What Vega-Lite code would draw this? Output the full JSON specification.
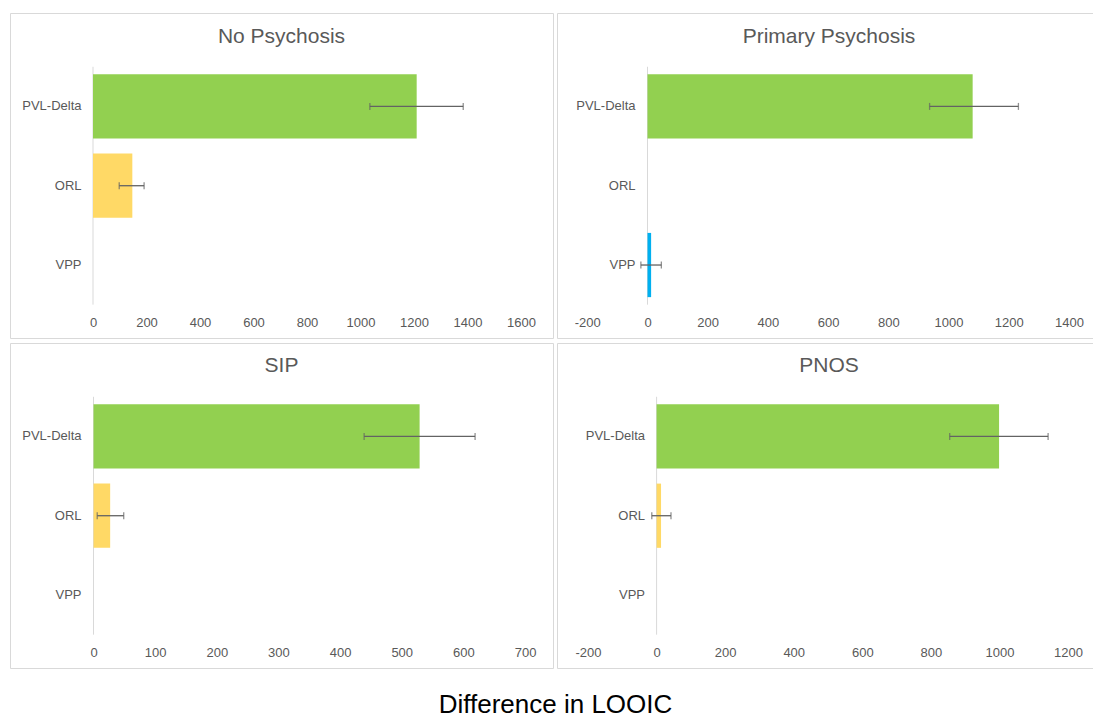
{
  "$schema": "https://vega.github.io/schema/vega-lite/v6.json",
  "padding": {"left": 9, "top": 12, "right": 0, "bottom": 0},
  "background": "white",
  "title": {"text": "Difference in LOOIC", "orient": "bottom", "anchor": "middle", "fontSize": 26, "font": "Liberation Sans", "fontWeight": "normal", "color": "#000000", "offset": 23},
  "config": {
    "view": {"stroke": "#D9D9D9", "strokeWidth": 1},
    "font": "Liberation Sans",
    "title": {"font": "Liberation Sans", "fontSize": 21, "fontWeight": "normal", "color": "#595959", "anchor": "middle", "baseline": "middle", "offset": -34},
    "axis": {"labelFont": "Liberation Sans", "labelFontSize": 13, "labelColor": "#595959", "domain": false, "grid": false, "ticks": false, "tickSize": 0, "minExtent": 0, "title": null},
    "axisX": {"labelExpr": "'' + datum.value"},
    "tick": {"thickness": 1.3}
  },
  "datasets": {
    "frame": [{"first": "PVL-Delta", "last": "VPP"}],
    "bars": [
      {"group": "No Psychosis", "model": "PVL-Delta", "value": 1210, "lo": 1035, "hi": 1384},
      {"group": "No Psychosis", "model": "ORL", "value": 147, "lo": 98, "hi": 191},
      {"group": "Primary Psychosis", "model": "PVL-Delta", "value": 1080, "lo": 937, "hi": 1232},
      {"group": "Primary Psychosis", "model": "VPP", "value": 12, "lo": -22, "hi": 46},
      {"group": "SIP", "model": "PVL-Delta", "value": 529, "lo": 439, "hi": 619},
      {"group": "SIP", "model": "ORL", "value": 27, "lo": 6, "hi": 49},
      {"group": "PNOS", "model": "PVL-Delta", "value": 999, "lo": 855, "hi": 1142},
      {"group": "PNOS", "model": "ORL", "value": 13, "lo": -14, "hi": 42}
    ]
  },
  "vconcat": [
    {"spacing": 2, "hconcat": [
      {"width": 543, "height": 325, "title": {"text": "No Psychosis"},
       "layer": [
         {"data": {"name": "frame"}, "mark": {"type": "rule", "color": "#D9D9D9", "strokeWidth": 1},
          "encoding": {
            "x": {"datum": 0, "type": "quantitative", "scale": {"domain": [-310.3, 1719.6], "nice": false, "zero": false}, "axis": {"values": [0, 200, 400, 600, 800, 1000, 1200, 1400, 1600], "labelPadding": -16, "labelBaseline": "middle"}},
            "y": {"field": "first", "type": "nominal", "bandPosition": -0.117, "title": null, "scale": {"domain": ["PVL-Delta", "ORL", "VPP"], "paddingInner": 0.19, "paddingOuter": 0.644, "align": 0.6}, "axis": {"labelPadding": -71}},
            "y2": {"field": "last", "bandPosition": 1.117}
          }},
         {"data": {"name": "bars"}, "transform": [{"filter": "datum.group === 'No Psychosis'"}], "mark": {"type": "bar"},
          "encoding": {
            "x": {"field": "value", "type": "quantitative", "title": null},
            "y": {"field": "model", "type": "nominal", "title": null},
            "color": {"field": "model", "type": "nominal", "scale": {"domain": ["PVL-Delta", "ORL", "VPP"], "range": ["#92D050", "#FFD966", "#00B0F0"]}, "legend": null}
          }},
         {"data": {"name": "bars"}, "transform": [{"filter": "datum.group === 'No Psychosis'"}], "mark": {"type": "rule", "color": "#636363", "strokeWidth": 1.3},
          "encoding": {"x": {"field": "lo", "type": "quantitative", "title": null}, "x2": {"field": "hi"}, "y": {"field": "model", "type": "nominal", "title": null}}},
         {"data": {"name": "bars"}, "transform": [{"filter": "datum.group === 'No Psychosis'"}], "mark": {"type": "tick", "color": "#636363", "size": 7},
          "encoding": {"x": {"field": "lo", "type": "quantitative", "title": null}, "y": {"field": "model", "type": "nominal", "title": null}}},
         {"data": {"name": "bars"}, "transform": [{"filter": "datum.group === 'No Psychosis'"}], "mark": {"type": "tick", "color": "#636363", "size": 7},
          "encoding": {"x": {"field": "hi", "type": "quantitative", "title": null}, "y": {"field": "model", "type": "nominal", "title": null}}}
       ]},
      {"width": 544, "height": 325, "title": {"text": "Primary Psychosis"},
       "layer": [
         {"data": {"name": "frame"}, "mark": {"type": "rule", "color": "#D9D9D9", "strokeWidth": 1},
          "encoding": {
            "x": {"datum": 0, "type": "quantitative", "scale": {"domain": [-300.6, 1506.3], "nice": false, "zero": false}, "axis": {"values": [-200, 0, 200, 400, 600, 800, 1000, 1200, 1400], "labelPadding": -16, "labelBaseline": "middle"}},
            "y": {"field": "first", "type": "nominal", "bandPosition": -0.117, "title": null, "scale": {"domain": ["PVL-Delta", "ORL", "VPP"], "paddingInner": 0.19, "paddingOuter": 0.644, "align": 0.6}, "axis": {"labelPadding": -78}},
            "y2": {"field": "last", "bandPosition": 1.117}
          }},
         {"data": {"name": "bars"}, "transform": [{"filter": "datum.group === 'Primary Psychosis'"}], "mark": {"type": "bar"},
          "encoding": {
            "x": {"field": "value", "type": "quantitative", "title": null},
            "y": {"field": "model", "type": "nominal", "title": null},
            "color": {"field": "model", "type": "nominal", "scale": {"domain": ["PVL-Delta", "ORL", "VPP"], "range": ["#92D050", "#FFD966", "#00B0F0"]}, "legend": null}
          }},
         {"data": {"name": "bars"}, "transform": [{"filter": "datum.group === 'Primary Psychosis'"}], "mark": {"type": "rule", "color": "#636363", "strokeWidth": 1.3},
          "encoding": {"x": {"field": "lo", "type": "quantitative", "title": null}, "x2": {"field": "hi"}, "y": {"field": "model", "type": "nominal", "title": null}}},
         {"data": {"name": "bars"}, "transform": [{"filter": "datum.group === 'Primary Psychosis'"}], "mark": {"type": "tick", "color": "#636363", "size": 7},
          "encoding": {"x": {"field": "lo", "type": "quantitative", "title": null}, "y": {"field": "model", "type": "nominal", "title": null}}},
         {"data": {"name": "bars"}, "transform": [{"filter": "datum.group === 'Primary Psychosis'"}], "mark": {"type": "tick", "color": "#636363", "size": 7},
          "encoding": {"x": {"field": "hi", "type": "quantitative", "title": null}, "y": {"field": "model", "type": "nominal", "title": null}}}
       ]}
    ]},
    {"spacing": 2, "hconcat": [
      {"width": 543, "height": 325, "title": {"text": "SIP", "offset": -33},
       "layer": [
         {"data": {"name": "frame"}, "mark": {"type": "rule", "color": "#D9D9D9", "strokeWidth": 1},
          "encoding": {
            "x": {"datum": 0, "type": "quantitative", "scale": {"domain": [-135.5, 745.4], "nice": false, "zero": false}, "axis": {"values": [0, 100, 200, 300, 400, 500, 600, 700], "labelPadding": -16, "labelBaseline": "middle"}},
            "y": {"field": "first", "type": "nominal", "bandPosition": -0.117, "title": null, "scale": {"domain": ["PVL-Delta", "ORL", "VPP"], "paddingInner": 0.19, "paddingOuter": 0.644, "align": 0.6}, "axis": {"labelPadding": -71}},
            "y2": {"field": "last", "bandPosition": 1.117}
          }},
         {"data": {"name": "bars"}, "transform": [{"filter": "datum.group === 'SIP'"}], "mark": {"type": "bar"},
          "encoding": {
            "x": {"field": "value", "type": "quantitative", "title": null},
            "y": {"field": "model", "type": "nominal", "title": null},
            "color": {"field": "model", "type": "nominal", "scale": {"domain": ["PVL-Delta", "ORL", "VPP"], "range": ["#92D050", "#FFD966", "#00B0F0"]}, "legend": null}
          }},
         {"data": {"name": "bars"}, "transform": [{"filter": "datum.group === 'SIP'"}], "mark": {"type": "rule", "color": "#636363", "strokeWidth": 1.3},
          "encoding": {"x": {"field": "lo", "type": "quantitative", "title": null}, "x2": {"field": "hi"}, "y": {"field": "model", "type": "nominal", "title": null}}},
         {"data": {"name": "bars"}, "transform": [{"filter": "datum.group === 'SIP'"}], "mark": {"type": "tick", "color": "#636363", "size": 7},
          "encoding": {"x": {"field": "lo", "type": "quantitative", "title": null}, "y": {"field": "model", "type": "nominal", "title": null}}},
         {"data": {"name": "bars"}, "transform": [{"filter": "datum.group === 'SIP'"}], "mark": {"type": "tick", "color": "#636363", "size": 7},
          "encoding": {"x": {"field": "hi", "type": "quantitative", "title": null}, "y": {"field": "model", "type": "nominal", "title": null}}}
       ]},
      {"width": 544, "height": 325, "title": {"text": "PNOS", "offset": -33},
       "layer": [
         {"data": {"name": "frame"}, "mark": {"type": "rule", "color": "#D9D9D9", "strokeWidth": 1},
          "encoding": {
            "x": {"datum": 0, "type": "quantitative", "scale": {"domain": [-290.5, 1296.3], "nice": false, "zero": false}, "axis": {"values": [-200, 0, 200, 400, 600, 800, 1000, 1200], "labelPadding": -16, "labelBaseline": "middle"}},
            "y": {"field": "first", "type": "nominal", "bandPosition": -0.117, "title": null, "scale": {"domain": ["PVL-Delta", "ORL", "VPP"], "paddingInner": 0.19, "paddingOuter": 0.644, "align": 0.6}, "axis": {"labelPadding": -87.5}},
            "y2": {"field": "last", "bandPosition": 1.117}
          }},
         {"data": {"name": "bars"}, "transform": [{"filter": "datum.group === 'PNOS'"}], "mark": {"type": "bar"},
          "encoding": {
            "x": {"field": "value", "type": "quantitative", "title": null},
            "y": {"field": "model", "type": "nominal", "title": null},
            "color": {"field": "model", "type": "nominal", "scale": {"domain": ["PVL-Delta", "ORL", "VPP"], "range": ["#92D050", "#FFD966", "#00B0F0"]}, "legend": null}
          }},
         {"data": {"name": "bars"}, "transform": [{"filter": "datum.group === 'PNOS'"}], "mark": {"type": "rule", "color": "#636363", "strokeWidth": 1.3},
          "encoding": {"x": {"field": "lo", "type": "quantitative", "title": null}, "x2": {"field": "hi"}, "y": {"field": "model", "type": "nominal", "title": null}}},
         {"data": {"name": "bars"}, "transform": [{"filter": "datum.group === 'PNOS'"}], "mark": {"type": "tick", "color": "#636363", "size": 7},
          "encoding": {"x": {"field": "lo", "type": "quantitative", "title": null}, "y": {"field": "model", "type": "nominal", "title": null}}},
         {"data": {"name": "bars"}, "transform": [{"filter": "datum.group === 'PNOS'"}], "mark": {"type": "tick", "color": "#636363", "size": 7},
          "encoding": {"x": {"field": "hi", "type": "quantitative", "title": null}, "y": {"field": "model", "type": "nominal", "title": null}}}
       ]}
    ]}
  ],
  "spacing": 3
}
